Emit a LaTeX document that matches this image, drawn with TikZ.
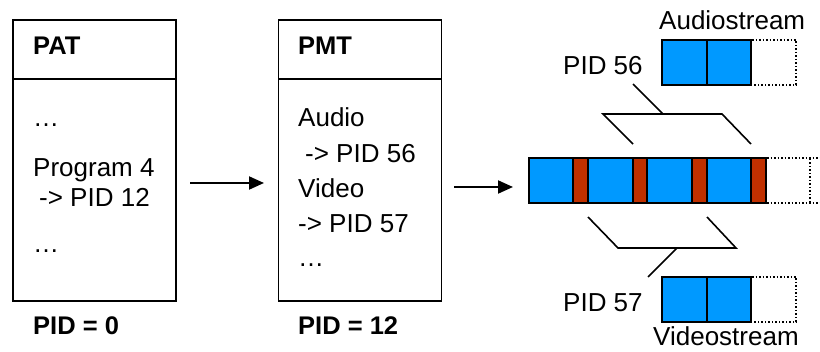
\documentclass[tikz,border=0pt]{standalone}
\usepackage{fontspec}
\setmainfont{Liberation Sans}
\usetikzlibrary{arrows.meta}
\definecolor{pblue}{RGB}{0,153,255}
\definecolor{pred}{RGB}{192,48,0}
\begin{document}
\begin{tikzpicture}[x=1pt,y=-1pt,
  tbl/.style={draw=black,line width=1.4pt,minimum width=163pt,minimum height=281pt,inner sep=0pt},
  txt/.style={anchor=base west,inner sep=0pt,font=\fontsize{26}{30}\selectfont},
  btxt/.style={txt,font=\fontsize{25.5}{30}\selectfont\bfseries},
  conn/.style={line width=2pt,-{Triangle[length=15pt,width=13pt]}},
  bseg/.style={fill=pblue,draw=black,line width=1.8pt},
  rseg/.style={fill=pred,draw=black,line width=1.8pt},
  dots/.style={draw=black,line width=1.5pt,dash pattern=on 1.5pt off 2pt},
  brk/.style={line width=1.6pt}]
\useasboundingbox (0,0) rectangle (820,352);
% PAT
\node[tbl] (pat) at (94.5,160.5) {};
\draw[line width=1.4pt] (13,79) -- (176,79);
\node[btxt] (patt) at (33,55) {PAT};
\node[txt] (pat1) at (33,127) {…};
\node[txt] (pat2) at (33,177) {Program 4};
\node[txt] (pat3) at (39,207) {-> PID 12};
\node[txt] (pat4) at (33,253) {…};
\node[btxt] (patp) at (33,335) {PID = 0};
% PMT
\node[tbl] (pmt) at (360,160.5) {};
\draw[line width=1.4pt] (278,79) -- (442,79);
\node[btxt] (pmtt) at (298,55) {PMT};
\node[txt] (pmt1) at (298,127) {Audio};
\node[txt] (pmt2) at (305,163) {-> PID 56};
\node[txt] (pmt3) at (298,198) {Video};
\node[txt] (pmt4) at (298,233) {-> PID 57};
\node[txt] (pmt5) at (298,267) {…};
\node[btxt] (pmtp) at (298,335) {PID = 12};
% arrows
\coordinate (a1s) at (190,183);
\coordinate (a1e) at (264,183);
\coordinate (a2s) at (454,187);
\coordinate (a2e) at (513,187);
\draw[conn] (a1s) -- (a1e);
\draw[conn] (a2s) -- (a2e);
% main stream
\draw[bseg] (529,158) rectangle (573,203);
\draw[rseg] (573,158) rectangle (588,203);
\draw[bseg] (588,158) rectangle (633,203);
\draw[rseg] (633,158) rectangle (647,203);
\draw[bseg] (647,158) rectangle (692,203);
\draw[rseg] (692,158) rectangle (707,203);
\draw[bseg] (707,158) rectangle (751,203);
\draw[rseg] (751,158) rectangle (766,203);
\draw[dots] (767,158) -- (822,158);
\draw[dots] (767,203) -- (822,203);
\draw[dots] (810,159) -- (810,202);
% audio stream
\draw[bseg] (662,40) rectangle (707,85);
\draw[bseg] (707,40) rectangle (751,85);
\draw[dots] (752,40) -- (796,40) -- (796,85) -- (752,85);
\node[txt] (aus) at (659,30) {Audiostream};
% video stream
\draw[bseg] (662,277) rectangle (707,322);
\draw[bseg] (707,277) rectangle (751,322);
\draw[dots] (752,277) -- (796,277) -- (796,322) -- (752,322);
\node[txt] (vis) at (653,346) {Videostream};
% PID labels and brackets
\node[txt] (p56) at (563,75) {PID 56};
\node[txt] (p57) at (563,312) {PID 57};
\draw[brk] (633,84) -- (663,114);
\draw[brk] (633,144) -- (603,114) -- (722,114) -- (751,144);
\draw[brk] (588,217) -- (618,248) -- (736,248) -- (707,217);
\draw[brk] (677,248) -- (648,277);
\end{tikzpicture}
\end{document}
